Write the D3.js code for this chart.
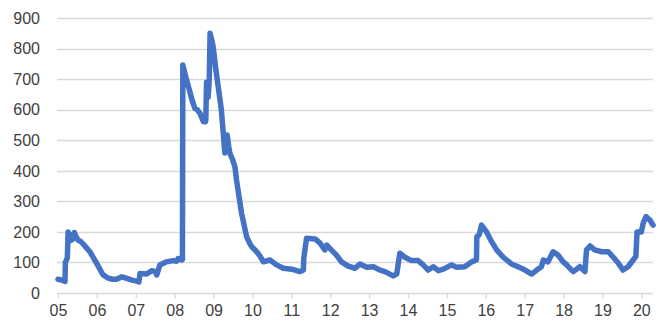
<!DOCTYPE html>
<html>
<head>
<meta charset="utf-8">
<script src="https://cdn.jsdelivr.net/npm/d3@7"></script>
<style>
html,body{margin:0;padding:0;background:#fff;}
svg{display:block;}
text{font-family:"Liberation Sans",Arial,sans-serif;}
</style>
</head>
<body>
<svg id="chart" width="663" height="334"></svg>
<script>
// decimal years
const dates = [
2005.00,2005.10,2005.18,2005.19,2005.24,2005.26,2005.28,2005.33,2005.37,2005.42,2005.46,2005.52,2005.57,2005.65,
2005.82,2005.99,2006.16,2006.29,2006.40,2006.51,2006.64,2006.77,2006.90,2007.02,2007.08,2007.11,2007.28,2007.41,
2007.50,2007.54,2007.62,2007.79,2007.96,2008.05,2008.09,2008.18,2008.20,2008.21,2008.30,2008.39,2008.45,2008.52,
2008.58,2008.65,2008.74,2008.79,2008.80,2008.82,2008.86,2008.89,2008.91,2008.95,2008.99,2009.05,2009.12,2009.20,
2009.25,2009.29,2009.32,2009.35,2009.39,2009.42,2009.48,2009.55,2009.59,2009.72,2009.85,2009.92,2009.98,2010.11,
2010.20,2010.28,2010.45,2010.62,2010.79,2011.01,2011.22,2011.31,2011.32,2011.36,2011.39,2011.61,2011.74,2011.86,
2011.91,2011.99,2012.16,2012.29,2012.46,2012.64,2012.76,2012.94,2013.11,2013.28,2013.41,2013.62,2013.71,2013.79,
2013.92,2014.09,2014.26,2014.39,2014.52,2014.65,2014.78,2014.91,2015.12,2015.25,2015.46,2015.64,2015.76,2015.77,
2015.83,2015.89,2016.02,2016.15,2016.28,2016.45,2016.66,2016.83,2017.01,2017.18,2017.31,2017.43,2017.48,2017.60,
2017.73,2017.86,2017.99,2018.08,2018.16,2018.25,2018.42,2018.55,2018.59,2018.68,2018.80,2018.98,2019.15,2019.28,
2019.40,2019.53,2019.66,2019.79,2019.86,2019.89,2020.00,2020.05,2020.12,2020.22,2020.30
];
const values = [
45,42,38,100,115,200,195,172,175,198,185,172,170,160,
135,98,59,49,45,45,53,48,42,39,36,64,62,73,
70,59,92,102,106,104,113,108,110,746,700,659,630,604,
600,588,561,560,565,690,640,700,850,830,806,740,675,600,
523,458,500,517,480,457,440,413,370,261,184,165,152,135,
120,102,108,92,81,78,70,75,113,150,179,177,163,141,
157,146,124,102,88,81,95,84,86,75,70,56,62,130,
117,106,106,92,75,86,73,78,92,84,86,102,108,184,
190,222,200,168,141,117,95,86,75,62,75,86,108,102,
135,124,102,92,81,70,86,70,141,154,141,135,135,117,
99,75,86,108,120,200,200,230,250,239,222
];
const yTicks = [0,100,200,300,400,500,600,700,800,900];
const xTicks = [2005,2006,2007,2008,2009,2010,2011,2012,2013,2014,2015,2016,2017,2018,2019,2020];
const xTickLabels = ["05","06","07","08","09","10","11","12","13","14","15","16","17","18","19","20"];

const svg = d3.select("#chart");
const x = d3.scaleLinear().domain([2005, 2020.3]).range([58, 653]);
const y = d3.scaleLinear().domain([0, 900]).range([293, 18]);
const left = 57, right = 653;

// gridlines
svg.append("g").selectAll("line").data(yTicks.slice(1)).join("line")
  .attr("x1", left).attr("x2", right)
  .attr("y1", d => Math.round(y(d)) + 0.5).attr("y2", d => Math.round(y(d)) + 0.5)
  .attr("stroke", "#d9d9d9").attr("stroke-width", 1.3);

// y labels
svg.append("g").selectAll("text").data(yTicks).join("text")
  .attr("x", 40).attr("y", d => y(d)).attr("dy", "0.36em")
  .attr("text-anchor", "end").attr("font-size", 16).attr("fill", "#404040")
  .text(d => d);

// x axis
const xAxis = d3.axisBottom(x).tickValues(xTicks)
  .tickFormat((d, i) => xTickLabels[i]).tickSize(5).tickPadding(6);
const gx = svg.append("g").attr("transform", `translate(0,${Math.round(y(0)) + 0.5})`).call(xAxis);
gx.select(".domain").attr("d", `M${left},0H${right}`).attr("stroke", "#d9d9d9").attr("stroke-width", 1.3);
gx.selectAll(".tick line").attr("stroke", "#d9d9d9").attr("stroke-width", 1.3);
gx.selectAll(".tick text").attr("font-size", 16).attr("fill", "#404040")
  .attr("font-family", "Liberation Sans, Arial, sans-serif");

// line
const pts = dates.map((d, i) => [d, values[i]]);
svg.append("path").datum(pts)
  .attr("fill", "none").attr("stroke", "#4472C4").attr("stroke-width", 5.5)
  .attr("stroke-linejoin", "round").attr("stroke-linecap", "round")
  .attr("d", d3.line().x(d => x(d[0])).y(d => y(d[1])));
</script>
</body>
</html>
